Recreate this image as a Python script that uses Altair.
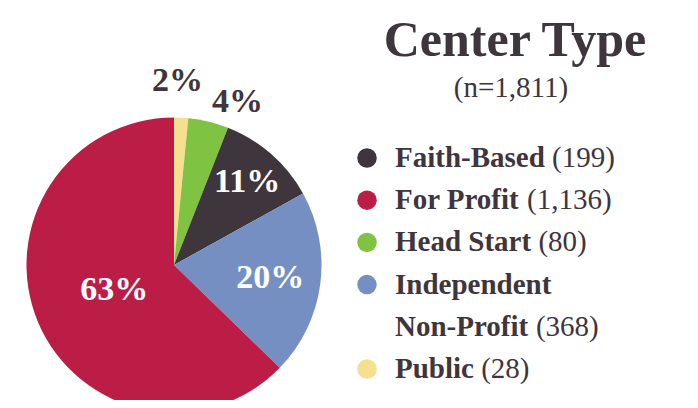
import altair as alt
import pandas as pd

# ---- data ----
categories = ["Public", "Head Start", "Faith-Based", "Independent Non-Profit", "For Profit"]
counts = [28, 80, 199, 368, 1136]
colors = ["#F6E08F", "#80C242", "#3E353D", "#758FC2", "#BC1D47"]
legend_order = ["Faith-Based", "For Profit", "Head Start", "Independent Non-Profit", "Public"]
legend_wrap = {"Independent Non-Profit": ["Independent", "Non-Profit"]}
title_text = "Center Type"
subtitle_text = "(n=1,811)"

FONT = "Liberation Serif"
DARK = "#3E353D"
LEG_SIZE = 29

# Times-Bold advance widths (Liberation Serif Bold is metric compatible)
TB = {" ": 250, "-": 333, "B": 667, "F": 611, "H": 778, "I": 389, "N": 722, "P": 611,
      "S": 556, "a": 500, "b": 556, "c": 444, "d": 556, "e": 444, "f": 333, "h": 556,
      "i": 278, "l": 278, "n": 556, "o": 500, "p": 556, "r": 444, "s": 389, "t": 333,
      "u": 556}


def bold_width(s, size):
    return sum(TB.get(ch, 500) for ch in s) * size / 1000.0


total = sum(counts)
pie_df = pd.DataFrame({
    "category": categories,
    "count": counts,
    "ord": list(range(len(categories))),
})
pie_df["pct"] = [f"{round(c / total * 100)}%" for c in counts]

# legend rows (one per printed line)
leg_x = 387
rows = []
line = 0
cnt_of = dict(zip(categories, counts))
for cat in legend_order:
    parts = legend_wrap.get(cat, [cat])
    for i, p in enumerate(parts):
        last = i == len(parts) - 1
        rows.append({
            "category": cat,
            "name": p,
            "line": line,
            "first": i == 0,
            "count_text": f"({cnt_of[cat]:,})" if last else "",
            "cx": leg_x + bold_width(p, LEG_SIZE) + 0.25 * LEG_SIZE,
        })
        line += 1
leg_df = pd.DataFrame(rows)

CX, CY, R = 166, 257, 147.5

color_scale = alt.Scale(domain=categories, range=colors)

pie = alt.Chart(pie_df).mark_arc(outerRadius=R, stroke=None).encode(
    theta=alt.Theta("count:Q", stack=True),
    color=alt.Color("category:N", scale=color_scale, legend=None),
    order=alt.Order("ord:Q"),
    x=alt.value(CX),
    y=alt.value(CY),
)

labels = alt.Chart(pie_df).transform_window(
    cum="sum(count)", sort=[alt.SortField("ord")], frame=[None, 0]
).transform_joinaggregate(
    tot="sum(count)"
).transform_calculate(
    share="datum.count / datum.tot",
    mid="(datum.cum - datum.count / 2) / datum.tot",
).transform_calculate(
    tl="2 * PI * datum.mid + (datum.share < 0.03 ? -0.03 : (datum.share < 0.06 ? 0.136 : 0))",
    rl="datum.share < 0.06 ? (datum.share < 0.03 ? 184 : 175) : (datum.share > 0.5 ? 65 : (datum.share > 0.15 ? 97 : 111))",
).mark_text(font=FONT, fontWeight="bold", fontSize=34, align="center", baseline="middle").encode(
    theta=alt.Theta("tl:Q", scale=None),
    radius=alt.Radius("rl:Q", scale=None),
    x=alt.value(CX),
    y=alt.value(CY),
    text="pct:N",
    color=alt.condition("datum.share > 0.06", alt.value("white"), alt.value(DARK)),
)

title = alt.Chart(pd.DataFrame({"t": [title_text]})).mark_text(
    font=FONT, fontWeight="bold", fontSize=50, align="center", baseline="alphabetic", color=DARK
).encode(text="t:N", x=alt.value(507), y=alt.value(48))

subtitle = alt.Chart(pd.DataFrame({"t": [subtitle_text]})).mark_text(
    font=FONT, fontSize=29, align="center", baseline="alphabetic", color=DARK
).encode(text="t:N", x=alt.value(503), y=alt.value(89))

yscale = alt.Scale(domain=[0, 5], range=[159, 370])

leg_points = alt.Chart(leg_df).transform_filter("datum.first").mark_point(
    filled=True, size=380, opacity=1, shape="circle"
).encode(
    x=alt.value(359),
    y=alt.Y("line:Q", scale=yscale, axis=None),
    yOffset=alt.value(-9),
    color=alt.Color("category:N", scale=color_scale, legend=None),
)

leg_names = alt.Chart(leg_df).mark_text(
    font=FONT, fontWeight="bold", fontSize=LEG_SIZE, align="left", baseline="alphabetic", color=DARK
).encode(
    x=alt.value(leg_x),
    y=alt.Y("line:Q", scale=yscale, axis=None),
    text="name:N",
)

leg_counts = alt.Chart(leg_df).mark_text(
    font=FONT, fontSize=LEG_SIZE, align="left", baseline="alphabetic", color=DARK
).encode(
    x=alt.X("cx:Q", scale=None, axis=None),
    y=alt.Y("line:Q", scale=yscale, axis=None),
    text="count_text:N",
)

chart = alt.layer(pie, labels, title, subtitle, leg_points, leg_names, leg_counts).resolve_scale(
    theta="independent", x="independent", y="independent"
).properties(
    width=682, height=392, autosize=alt.AutoSizeParams(type="none"), padding=0
).configure_view(stroke=None)

chart.save("out.html", embed_options={"renderer": "svg", "actions": False})
